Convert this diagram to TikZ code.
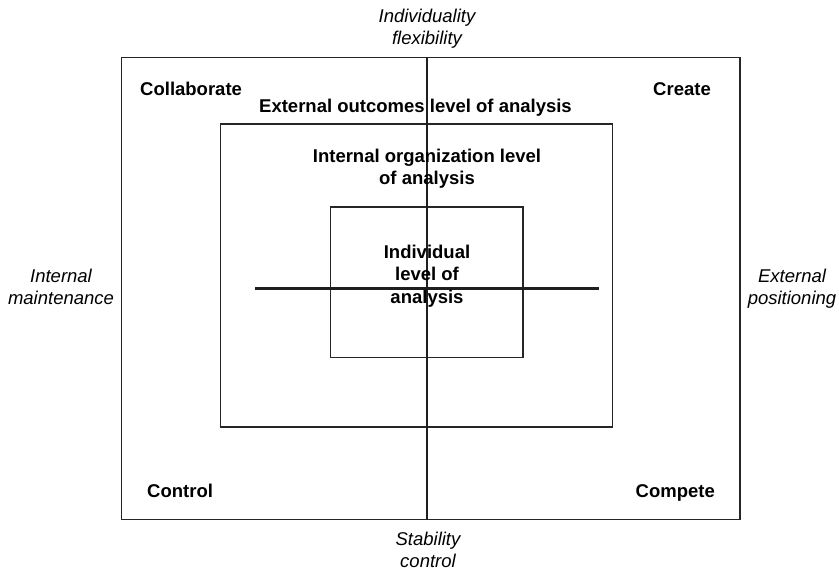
\documentclass[tikz,border=0pt]{standalone}
\usepackage{fontspec}
\setmainfont{Liberation Sans}
\begin{document}
\begin{tikzpicture}[x=1pt,y=-1pt,
  frame/.style={draw=black!85,line width=1.1pt},
  axis/.style={draw=black!88,line width=2.4pt},
  quad/.style={font=\fontsize{18.5}{22.5}\selectfont\bfseries,inner sep=0pt},
  level/.style={font=\fontsize{18.5}{22.5}\selectfont\bfseries,inner sep=0pt,align=center},
  pole/.style={font=\fontsize{18.5}{22.5}\selectfont\itshape,inner sep=0pt,align=center}]
\useasboundingbox (0,0) rectangle (839,572);

% nested levels of analysis
\draw[frame] (121.5,57.5) rectangle (740,519.5);
\draw[frame] (220.5,124) rectangle (612.5,427);
\draw[frame] (330.5,207) rectangle (523,357.5);

% axes
\coordinate (vtop) at (427,57.5);
\coordinate (vbot) at (427,519.5);
\coordinate (hleft) at (255,288.5);
\coordinate (hright) at (599,288.5);
\draw[axis] (vtop) -- (vbot);
\draw[axis] (hleft) -- (hright);

% axis poles
\node[pole] (flex) at (427,28.5) {Individuality\\flexibility};
\node[pole] (stab) at (428,550) {Stability\\control};
\node[pole] (intm) at (61,287) {Internal\\maintenance};
\node[pole] (extp) at (792,288.5) {External\\positioning};

% quadrant names
\node[quad,anchor=base west] (collab) at (140,96) {Collaborate};
\node[quad,anchor=base east] (create) at (711,96) {Create};
\node[quad,anchor=base west] (control) at (147,497) {Control};
\node[quad,anchor=base east] (compete) at (715,497) {Compete};

% level labels
\node[quad,anchor=base] (extout) at (415.5,113) {External outcomes level of analysis};
\node[level] (intorg) at (427,168.5) {Internal organization level\\of analysis};
\node[level] (indiv) at (427,276) {Individual\\level of\\analysis};
\end{tikzpicture}
\end{document}
